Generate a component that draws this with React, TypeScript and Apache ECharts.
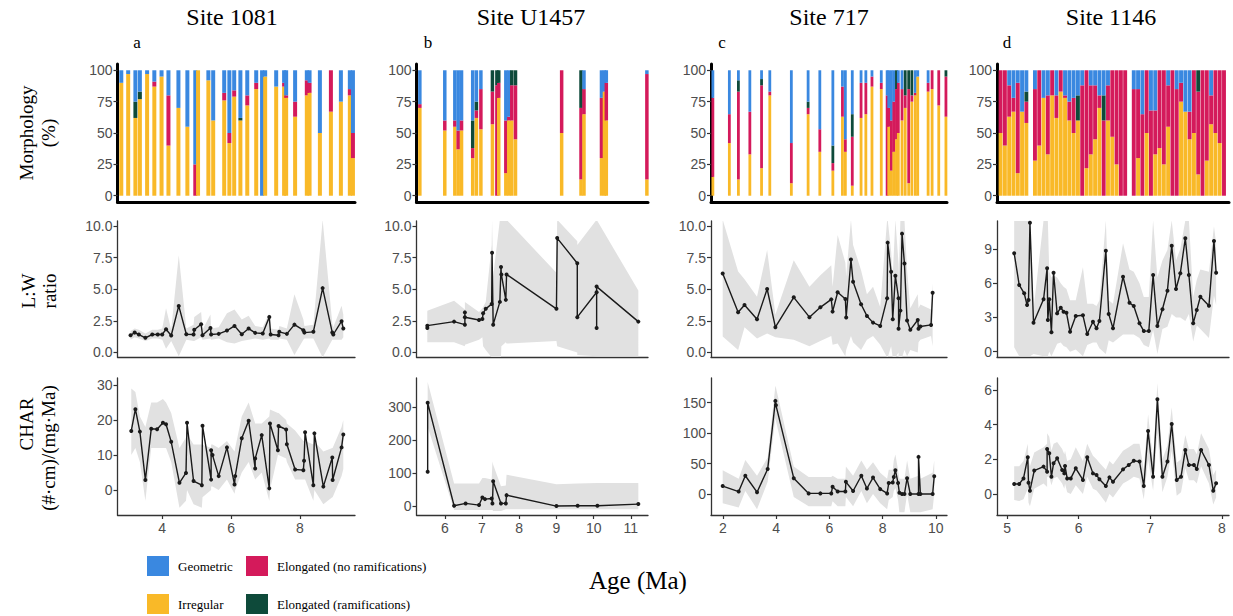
import React, { useEffect, useRef } from "react";
import * as echarts from "echarts";

const SERIF = "'Liberation Serif', 'Times New Roman', serif";
const SANS = "'Liberation Sans', Arial, sans-serif";

const C_GEO = "#3A88E0";
const C_IRR = "#F9B928";
const C_ELN = "#D41A5B";
const C_ELR = "#0E4A3A";
const C_RIB = "#E1E1E1";
const C_LINE = "#1A1A1A";

// ---------- Morphology (%) ----------
// Site 1081
const m1081Age = [2.81, 3.01, 3.22, 3.35, 3.56, 3.77, 3.98, 4.18, 4.47, 4.73, 4.96, 5.04, 5.34, 5.48, 5.80, 5.95, 6.09, 6.27, 6.47, 6.73, 6.90, 6.99, 7.31, 7.54, 7.60, 7.86, 8.20, 8.28, 8.58, 8.90, 9.19, 9.45, 9.54];
const m1081Irr = [90, 97, 62, 77, 97, 87, 95, 40, 70, 55, 0, 100, 92, 60, 76, 42, 79, 60, 72, 85, 0, 95, 87, 87, 78, 63, 80, 82, 50, 67, 75, 80, 30];
const m1081Eln = [0, 0, 0, 0, 0, 4, 0, 40, 0, 0, 25, 0, 0, 0, 6, 8, 5, 0, 8, 5, 0, 0, 0, 3, 2, 12, 12, 8, 0, 33, 0, 5, 20];
const m1081Elr = [0, 0, 13, 6, 0, 0, 0, 0, 0, 0, 0, 0, 0, 0, 0, 0, 0, 2, 0, 0, 0, 0, 0, 0, 0, 0, 0, 0, 0, 0, 0, 0, 0];
const m1081Geo = [10, 3, 25, 17, 3, 9, 5, 20, 30, 45, 75, 0, 8, 40, 18, 50, 16, 38, 20, 10, 100, 5, 13, 10, 20, 25, 8, 10, 50, 0, 25, 15, 50];
// Site U1457
const mU1457Age = [5.33, 6.00, 6.27, 6.36, 6.45, 6.75, 6.85, 6.97, 7.28, 7.40, 7.45, 7.64, 7.72, 7.80, 7.90, 9.14, 9.66, 9.74, 10.21, 10.29, 10.34, 11.43];
const mU1457Irr = [70, 52, 55, 37, 52, 30, 62, 53, 57, 0, 78, 18, 60, 60, 45, 50, 13, 65, 30, 83, 60, 13];
const mU1457Eln = [3, 8, 5, 15, 8, 8, 6, 32, 26, 88, 12, 42, 3, 28, 43, 50, 57, 20, 48, 0, 30, 84];
const mU1457Elr = [0, 0, 0, 0, 0, 22, 7, 0, 17, 12, 10, 0, 0, 12, 12, 0, 30, 0, 0, 0, 0, 0];
const mU1457Geo = [27, 40, 40, 48, 40, 40, 25, 15, 0, 0, 0, 40, 37, 0, 0, 0, 0, 15, 22, 17, 10, 3];
// Site 717
const m717Age = [1.62, 2.24, 2.58, 3.01, 3.45, 3.76, 4.57, 5.20, 5.64, 6.13, 6.49, 6.60, 6.86, 7.19, 7.37, 7.60, 7.95, 8.17, 8.23, 8.33, 8.42, 8.52, 8.59, 8.73, 8.85, 8.98, 9.10, 9.23, 9.32, 9.71, 9.86, 10.11, 10.38];
const m717Irr = [15, 42, 13, 33, 22, 80, 10, 65, 35, 20, 63, 35, 8, 62, 65, 87, 85, 0, 55, 20, 35, 45, 50, 60, 70, 10, 75, 80, 95, 83, 85, 72, 63];
const m717Eln = [63, 23, 70, 34, 66, 3, 32, 5, 18, 6, 24, 10, 39, 28, 25, 8, 5, 80, 15, 40, 40, 40, 40, 25, 10, 75, 5, 2, 0, 7, 15, 28, 32];
const m717Elr = [0, 0, 9, 0, 5, 0, 0, 5, 0, 14, 0, 0, 18, 0, 0, 0, 0, 0, 0, 0, 0, 15, 0, 0, 20, 15, 20, 0, 0, 0, 0, 0, 5];
const m717Geo = [22, 35, 8, 33, 7, 17, 58, 25, 47, 60, 13, 55, 35, 10, 10, 5, 10, 20, 30, 40, 25, 0, 10, 15, 0, 0, 0, 18, 5, 10, 0, 0, 0];
// Site 1146
const m1146Age = [4.91, 4.97, 5.03, 5.09, 5.15, 5.21, 5.27,
  5.39, 5.45, 5.51, 5.57, 5.63, 5.69, 5.75, 5.81, 5.87, 5.93, 5.99, 6.05, 6.11, 6.17, 6.23, 6.29, 6.35, 6.41, 6.47, 6.53, 6.59, 6.65,
  6.77, 6.83, 6.89, 6.95, 7.01, 7.07, 7.13, 7.19, 7.25, 7.31, 7.37, 7.43, 7.49, 7.55, 7.61, 7.67, 7.73, 7.79, 7.85, 7.91, 7.97, 8.03];
const m1146Irr = [50, 40, 63, 67, 18, 67, 58,
  28, 40, 78, 33, 80, 62, 83, 78, 60, 50, 60, 0, 22, 33, 45, 70, 0, 60, 47, 25, 0, 0,
  0, 30, 0, 50, 0, 33, 38, 25, 55, 0, 0, 75, 67, 45, 50, 17, 0, 28, 57, 50, 42, 0];
const m1146Eln = [50, 60, 25, 11, 72, 0, 17,
  57, 60, 0, 47, 20, 18, 17, 2, 15, 28, 0, 88, 78, 55, 43, 10, 60, 28, 53, 75, 100, 100,
  85, 55, 65, 50, 68, 35, 62, 75, 33, 100, 85, 15, 0, 22, 50, 66, 100, 72, 23, 50, 58, 100];
const m1146Elr = [0, 0, 0, 0, 0, 0, 8,
  0, 0, 0, 0, 0, 0, 0, 0, 0, 0, 20, 0, 0, 0, 0, 0, 20, 0, 0, 0, 0, 0,
  0, 0, 0, 0, 0, 0, 0, 0, 0, 0, 0, 0, 0, 0, 0, 17, 0, 0, 0, 0, 0, 0];
const m1146Geo = [0, 0, 12, 22, 10, 33, 17,
  15, 0, 22, 20, 0, 20, 0, 20, 25, 22, 20, 12, 0, 12, 12, 20, 20, 12, 0, 0, 0, 0,
  15, 15, 35, 0, 32, 32, 0, 0, 12, 0, 15, 10, 33, 33, 0, 0, 0, 0, 20, 0, 0, 0];

// ---------- L:W ratio ----------
const lw1081Age = [3.08, 3.20, 3.32, 3.51, 3.71, 3.87, 4.00, 4.11, 4.26, 4.48, 4.70, 4.91, 4.93, 5.13, 5.17, 5.40, 5.42, 5.64, 5.88, 6.10, 6.31, 6.51, 6.70, 6.92, 7.11, 7.15, 7.38, 7.40, 7.62, 7.84, 8.10, 8.13, 8.39, 8.66, 8.94, 8.97, 9.21, 9.26];
const lw1081Val = [1.36, 1.57, 1.42, 1.16, 1.42, 1.42, 1.42, 1.84, 1.34, 3.68, 1.44, 1.42, 1.79, 2.23, 1.36, 1.94, 1.42, 1.47, 1.73, 2.10, 1.44, 1.89, 1.55, 1.50, 2.81, 1.42, 1.36, 1.63, 1.47, 2.20, 1.76, 1.57, 1.63, 5.09, 1.57, 1.42, 2.47, 1.89];
const lw1081Lo = [1.0, 1.2, 1.1, 0.9, 1.1, 1.1, 1.0, 0.3, 0.9, -0.3, 1.0, 0.9, 0.9, 1.2, 1.0, 1.1, 1.0, 1.1, 0.8, 0.7, 0.9, 1.0, 1.1, 1.0, 1.1, 1.0, 1.0, 1.1, 1.0, -0.2, 1.0, 1.1, 1.1, -0.4, 1.0, 1.0, 1.0, 1.2];
const lw1081Hi = [1.7, 1.9, 1.8, 1.5, 1.8, 1.8, 1.9, 3.5, 1.8, 7.7, 1.9, 2.2, 2.8, 3.2, 1.8, 3.0, 1.9, 2.0, 3.1, 3.4, 2.6, 2.9, 2.1, 2.0, 3.1, 1.9, 1.8, 2.1, 1.9, 4.6, 2.6, 2.1, 2.2, 10.5, 2.3, 2.0, 3.7, 3.0];

const lwU1457Age = [5.53, 5.53, 6.25, 6.54, 6.54, 6.54, 6.92, 7.01, 7.03, 7.10, 7.26, 7.27, 7.30, 7.48, 7.51, 7.52, 7.64, 7.66, 9.00, 9.02, 9.56, 9.56, 10.08, 10.08, 10.08, 11.20];
const lwU1457Val = [1.94, 2.12, 2.44, 2.20, 3.17, 2.78, 2.57, 2.65, 3.10, 3.45, 3.84, 7.89, 2.20, 4.00, 6.76, 6.17, 4.16, 6.17, 3.45, 9.05, 7.06, 2.79, 4.76, 1.94, 5.21, 2.44];
const lwU1457Lo = [0.8, 0.8, 0.8, 0.5, 0.5, 0.6, 1.0, 1.2, 0.5, 0.2, -0.4, -0.4, -0.4, -0.4, -0.4, 0.5, 0.8, 0.7, 0.9, 0.5, 0.0, -0.2, -0.3, -0.3, -0.3, -0.3];
const lwU1457Hi = [3.3, 3.3, 4.1, 3.4, 5.2, 4.0, 3.2, 3.5, 3.6, 4.0, 8.5, 10.5, 6.0, 10.5, 10.5, 10.5, 10.5, 10.5, 6.3, 10.5, 8.8, 8.5, 10.5, 10.5, 10.5, 4.9];

const lw717Age = [1.99, 2.57, 2.81, 3.28, 3.66, 3.97, 4.66, 5.25, 5.66, 6.07, 6.12, 6.31, 6.60, 6.63, 6.81, 6.89, 7.19, 7.41, 7.64, 7.91, 8.17, 8.19, 8.32, 8.38, 8.48, 8.60, 8.60, 8.67, 8.73, 8.82, 8.92, 9.04, 9.32, 9.35, 9.42, 9.82, 9.88];
const lw717Val = [6.25, 3.18, 3.76, 2.63, 5.02, 2.00, 4.36, 2.79, 3.57, 4.20, 3.23, 4.76, 4.23, 2.76, 7.35, 5.59, 3.81, 2.89, 2.36, 2.10, 4.28, 8.69, 6.38, 2.63, 6.06, 4.28, 1.87, 3.31, 9.40, 7.04, 2.52, 1.79, 2.57, 1.87, 2.05, 2.18, 4.72];
const lw717Lo = [1.26, 0.2, 2.0, 1.1, 1.5, 1.2, 1.0, 0.5, 0.9, 1.3, 0.6, 0.7, -0.3, 0.2, 1.3, 0.8, 0.2, 1.0, 1.3, 0.6, -0.4, -0.4, 0.5, -0.4, -0.4, 0.0, -0.4, -0.4, -0.4, 0.2, -0.3, 0.2, 0.0, 0.8, 1.0, 1.3, 0.5];
const lw717Hi = [10.5, 6.4, 5.8, 4.4, 8.1, 3.0, 7.3, 5.2, 6.1, 6.9, 5.2, 9.3, 7.1, 6.0, 10.5, 8.5, 6.5, 4.6, 5.2, 3.6, 10.5, 10.5, 8.0, 6.0, 10.5, 7.0, 6.0, 10.5, 10.5, 10.5, 6.5, 3.5, 4.6, 3.5, 3.8, 3.4, 5.5];

const lw1146Age = [5.10, 5.17, 5.24, 5.28, 5.30, 5.32, 5.37, 5.51, 5.56, 5.57, 5.59, 5.62, 5.65, 5.70, 5.75, 5.79, 5.83, 5.88, 5.96, 6.06, 6.12, 6.20, 6.25, 6.29, 6.38, 6.42, 6.48, 6.62, 6.71, 6.77, 6.85, 6.91, 6.98, 7.04, 7.10, 7.17, 7.24, 7.30, 7.36, 7.42, 7.49, 7.54, 7.60, 7.65, 7.70, 7.82, 7.89, 7.92];
const lw1146Val = [8.62, 5.85, 5.12, 4.09, 4.53, 11.3, 2.54, 4.59, 7.31, 2.78, 4.59, 1.70, 6.92, 3.36, 3.86, 3.51, 3.42, 1.75, 3.13, 3.19, 1.55, 2.63, 2.05, 2.69, 8.85, 3.30, 2.05, 6.57, 4.29, 4.00, 2.49, 1.81, 1.81, 6.72, 2.25, 3.72, 5.35, 9.29, 5.50, 6.87, 9.94, 6.72, 2.49, 3.65, 4.82, 4.03, 9.70, 6.92];
const lw1146Lo = [0.4, -0.4, -0.4, -0.4, -0.4, -0.4, -0.2, -0.4, -0.4, -0.4, 0.0, -0.4, 0.0, 0.7, 0.8, 0.5, 0.4, 0.0, 0.2, -0.4, 0.6, 0.8, 0.8, 0.3, -0.2, 1.0, 0.8, 1.5, 1.5, 1.5, 1.2, 0.6, 0.4, 1.9, -0.2, 2.0, 2.2, 3.3, 3.0, 3.0, 2.7, 3.3, 0.9, 2.3, 2.0, 1.2, 4.9, 4.1];
const lw1146Hi = [11.5, 11.5, 11.5, 11.5, 11.5, 11.5, 3.7, 11.5, 11.5, 11.5, 7.0, 6.5, 6.7, 6.5, 6.0, 5.7, 5.5, 4.5, 4.5, 7.4, 4.2, 4.2, 4.0, 4.5, 11.5, 4.5, 4.2, 9.5, 7.2, 7.0, 6.0, 4.8, 4.8, 11.5, 6.5, 8.0, 8.9, 11.5, 8.0, 9.0, 11.5, 11.5, 4.8, 6.3, 7.2, 7.0, 11.0, 9.5];

// ---------- CHAR ----------
const ch1081Age = [3.10, 3.22, 3.35, 3.51, 3.68, 3.85, 4.02, 4.11, 4.26, 4.50, 4.69, 4.72, 4.91, 5.15, 5.17, 5.42, 5.42, 5.46, 5.64, 5.88, 6.10, 6.12, 6.31, 6.51, 6.70, 6.70, 6.89, 7.11, 7.13, 7.36, 7.38, 7.60, 7.62, 7.86, 8.10, 8.12, 8.15, 8.39, 8.42, 8.68, 8.94, 8.95, 9.21, 9.26];
const ch1081Val = [16.9, 23.1, 16.7, 2.9, 17.5, 17.4, 19.2, 18.8, 13.8, 2.1, 4.9, 19.2, 2.6, 1.4, 18.4, 3.0, 11.4, 10.0, 4.0, 12.2, 1.6, 4.0, 14.8, 19.8, 6.2, 9.0, 15.7, 0.5, 19.0, 11.4, 18.3, 17.3, 13.1, 5.9, 5.7, 8.4, 16.5, 1.4, 16.2, 1.0, 9.3, 2.9, 12.2, 15.9];
const ch1081Lo = [10, 12, 8, -3, 12, 12, 12, 12, 8, -5, -3, 0, -4, -5, -2, 0, 1, 1, 0, 3, -1, 0, 5, 8, 3, 3, 5, -3, 0, 10, 10, 9, 8, 3, 3, 3, 3, -3, 0, -4, -2, -2, 4, 6];
const ch1081Hi = [29, 28, 21, 18, 25, 25, 26, 25, 22, 12, 15, 16, 13, 13, 13, 12, 13, 13, 12, 14, 11, 12, 21, 25, 19, 19, 19, 21, 23, 22, 22, 20, 19, 17, 14, 14, 14, 13, 14, 11, 12, 12, 18, 20];

const chU1457Age = [5.54, 5.54, 6.25, 6.56, 6.92, 7.01, 7.08, 7.26, 7.28, 7.30, 7.51, 7.64, 7.66, 9.00, 9.57, 10.10, 11.20];
const chU1457Val = [104, 312, 1, 8, 3, 26, 21, 23, 8, 75, 8, 8, 33, 0, 1, 1, 6];
const chU1457Lo = [240, 240, -12, -12, -12, -12, -12, -12, -12, -15, -15, -10, -10, -10, -10, -10, -10];
const chU1457Hi = [375, 375, 68, 68, 68, 85, 85, 80, 135, 125, 60, 62, 95, 66, 68, 70, 70];

const ch717Age = [1.99, 2.59, 2.84, 3.28, 3.68, 3.97, 3.99, 4.66, 5.22, 5.66, 6.07, 6.12, 6.31, 6.60, 6.62, 6.89, 7.20, 7.41, 7.64, 7.91, 8.17, 8.23, 8.38, 8.42, 8.48, 8.58, 8.63, 8.73, 8.82, 8.92, 9.04, 9.35, 9.35, 9.42, 9.88, 9.94];
const ch717Val = [13, 4, 30, 3, 41, 153, 146, 26, 1, 1, 1, 12, 4, 4, 20, 5, 30, 9, 27, 8, 1, 18, 19, 28, 39, 18, 2, 0, 0, 26, 0, 0, 61, 0, 0, 29];
const ch717Lo = [-15, -22, 5, -25, 20, 125, 120, -5, -20, -20, -20, -12, -20, -20, -5, -20, 5, -15, 0, -15, -25, -10, -5, 5, 10, -10, -30, -30, -30, 0, -30, -30, -30, -30, -25, 0];
const ch717Hi = [39, 25, 56, 30, 60, 178, 175, 45, 28, 28, 28, 30, 25, 25, 45, 30, 55, 40, 52, 35, 25, 40, 40, 55, 65, 40, 25, 25, 25, 55, 25, 30, 30, 25, 35, 55];

const ch1146Age = [5.10, 5.17, 5.23, 5.29, 5.30, 5.32, 5.38, 5.51, 5.56, 5.56, 5.59, 5.62, 5.65, 5.70, 5.77, 5.80, 5.81, 5.84, 5.89, 5.96, 6.06, 6.12, 6.20, 6.25, 6.29, 6.38, 6.43, 6.48, 6.62, 6.70, 6.77, 6.85, 6.91, 6.97, 7.04, 7.10, 7.17, 7.24, 7.30, 7.37, 7.43, 7.49, 7.54, 7.61, 7.65, 7.71, 7.82, 7.88, 7.92];
const ch1146Val = [0.58, 0.58, 0.90, 2.12, 0.65, 0.19, 1.35, 1.58, 1.29, 2.60, 2.35, 1.00, 1.77, 2.06, 1.38, 1.19, 1.62, 0.90, 0.90, 1.48, 0.81, 2.12, 1.19, 1.10, 0.85, 0.46, 0.96, 0.71, 1.42, 1.67, 1.92, 1.87, 0.46, 3.63, 1.00, 5.46, 1.00, 1.87, 4.04, 0.81, 1.00, 2.54, 1.67, 1.67, 1.44, 2.54, 1.67, 0.19, 0.62];
const ch1146Lo = [-0.35, -0.4, -0.3, 0.3, -0.5, -0.7, 0.3, 0.6, 0.4, 1.0, 1.0, 0.5, 0.9, 1.0, 0.6, 0.3, 0.6, 0.1, 0.0, 0.5, 0.0, 1.0, 0.3, 0.2, 0.0, -0.5, 0.0, -0.2, 0.6, 0.8, 1.0, 0.9, -0.3, 2.0, 0.2, 3.5, 0.1, 1.0, 2.5, -0.1, 0.1, 1.5, 0.8, 0.8, 0.6, 1.6, 0.6, -0.6, -0.2];
const ch1146Hi = [1.6, 1.6, 1.9, 2.9, 2.0, 1.6, 2.4, 2.7, 2.9, 3.5, 3.3, 2.5, 2.9, 3.0, 2.6, 2.3, 2.5, 1.9, 2.0, 2.7, 1.9, 2.9, 2.2, 2.0, 1.8, 1.4, 1.9, 1.7, 2.5, 2.7, 2.9, 2.9, 1.4, 4.6, 1.9, 6.4, 2.0, 2.8, 5.0, 1.8, 2.0, 3.4, 2.6, 2.6, 2.3, 3.5, 2.6, 1.1, 1.4];

// ---------- Layout / axes ----------
const siteTitles = ["Site 1081", "Site U1457", "Site 717", "Site 1146"];
const panelLetters = ["a", "b", "c", "d"];

const COLS = [
  { left: 117.5, right: 355, xMin: 2.7, xMax: 9.6, xTicks: [4, 6, 8], barW: 4, titleX: 232, letterX: 137 },
  { left: 416.5, right: 648, xMin: 5.24, xMax: 11.46, xTicks: [6, 7, 8, 9, 10, 11], barW: 3.5, titleX: 531, letterX: 428 },
  { left: 711, right: 947, xMin: 1.55, xMax: 10.42, xTicks: [2, 4, 6, 8, 10], barW: 2.8, titleX: 829, letterX: 722 },
  { left: 997, right: 1229, xMin: 4.86, xMax: 8.1, xTicks: [5, 6, 7, 8], barW: 3.9, titleX: 1111, letterX: 1007 },
];
const ROWS = [
  { top: 64, height: 138 },
  { top: 221, height: 136 },
  { top: 378, height: 137 },
];
const Y_MORPH = { min: -5, max: 105, ticks: [0, 25, 50, 75, 100], dec: 0 };
const Y_LW = [
  { min: -0.36, max: 10.4, ticks: [0, 2.5, 5, 7.5, 10], dec: 1 },
  { min: -0.36, max: 10.4, ticks: [0, 2.5, 5, 7.5, 10], dec: 1 },
  { min: -0.36, max: 10.4, ticks: [0, 2.5, 5, 7.5, 10], dec: 1 },
  { min: -0.46, max: 11.45, ticks: [0, 3, 6, 9], dec: 0 },
];
const Y_CHAR = [
  { min: -7.1, max: 32, ticks: [0, 10, 20, 30], dec: 0 },
  { min: -27, max: 387, ticks: [0, 100, 200, 300], dec: 0 },
  { min: -34.5, max: 190.6, ticks: [0, 50, 100, 150], dec: 0 },
  { min: -1.21, max: 6.69, ticks: [0, 2, 4, 6], dec: 0 },
];

const MORPH = [
  { age: m1081Age, irr: m1081Irr, eln: m1081Eln, elr: m1081Elr, geo: m1081Geo },
  { age: mU1457Age, irr: mU1457Irr, eln: mU1457Eln, elr: mU1457Elr, geo: mU1457Geo },
  { age: m717Age, irr: m717Irr, eln: m717Eln, elr: m717Elr, geo: m717Geo },
  { age: m1146Age, irr: m1146Irr, eln: m1146Eln, elr: m1146Elr, geo: m1146Geo },
];
const LW = [
  { age: lw1081Age, val: lw1081Val, lo: lw1081Lo, hi: lw1081Hi },
  { age: lwU1457Age, val: lwU1457Val, lo: lwU1457Lo, hi: lwU1457Hi },
  { age: lw717Age, val: lw717Val, lo: lw717Lo, hi: lw717Hi },
  { age: lw1146Age, val: lw1146Val, lo: lw1146Lo, hi: lw1146Hi },
];
const CHAR = [
  { age: ch1081Age, val: ch1081Val, lo: ch1081Lo, hi: ch1081Hi },
  { age: chU1457Age, val: chU1457Val, lo: chU1457Lo, hi: chU1457Hi },
  { age: ch717Age, val: ch717Val, lo: ch717Lo, hi: ch717Hi },
  { age: ch1146Age, val: ch1146Val, lo: ch1146Lo, hi: ch1146Hi },
];

// stacking order, bottom to top
const MORPH_CATS = [
  { key: "irr", name: "Irregular", color: C_IRR },
  { key: "eln", name: "Elongated (no ramifications)", color: C_ELN },
  { key: "elr", name: "Elongated (ramifications)", color: C_ELR },
  { key: "geo", name: "Geometric", color: C_GEO },
];

function morphSeries(m: any, gi: number, barW: number) {
  return {
    type: "custom",
    xAxisIndex: gi,
    yAxisIndex: gi,
    silent: true,
    z: 2,
    data: m.age.map((a: number, i: number) => [a, m.irr[i], m.eln[i], m.elr[i], m.geo[i]]),
    encode: { x: 0, y: [1, 2, 3, 4] },
    renderItem: (params: any, api: any) => {
      const x = api.value(0);
      let acc = 0;
      const children: any[] = [];
      MORPH_CATS.forEach((cat, j) => {
        const v = api.value(j + 1);
        if (!(v > 0)) return;
        const p0 = api.coord([x, acc]);
        const p1 = api.coord([x, acc + v]);
        children.push({
          type: "rect",
          shape: { x: p0[0] - barW / 2, y: p1[1], width: barW, height: p0[1] - p1[1] },
          style: { fill: cat.color },
        });
        acc += v;
      });
      return { type: "group", children };
    },
  };
}

function ribbon(d: any, gi: number) {
  return {
    type: "custom",
    xAxisIndex: gi,
    yAxisIndex: gi,
    clip: true,
    silent: true,
    z: 1,
    data: d.age.map((a: number, i: number) => [a, d.lo[i], d.hi[i]]),
    encode: { x: 0, y: [1, 2] },
    renderItem: (params: any, api: any) => {
      if (params.dataIndex !== 0) return null;
      const top = d.age.map((a: number, i: number) => api.coord([a, d.hi[i]]));
      const bot = d.age.map((a: number, i: number) => api.coord([a, d.lo[i]])).reverse();
      return { type: "polygon", shape: { points: top.concat(bot) }, style: { fill: C_RIB } };
    },
  };
}

function lineSeries(d: any, gi: number) {
  return {
    type: "line",
    xAxisIndex: gi,
    yAxisIndex: gi,
    z: 3,
    silent: true,
    data: d.age.map((a: number, i: number) => [a, d.val[i]]),
    symbol: "circle",
    symbolSize: 4,
    showSymbol: true,
    lineStyle: { color: C_LINE, width: 1.4 },
    itemStyle: { color: C_LINE },
  };
}

function buildOption() {
  const grid: any[] = [];
  const xAxis: any[] = [];
  const yAxis: any[] = [];
  const series: any[] = [];

  COLS.forEach((col, c) => {
    ROWS.forEach((row, r) => {
      const gi = grid.length;
      grid.push({
        left: col.left,
        top: row.top,
        width: col.right - col.left,
        height: row.height,
        containLabel: false,
        outerBoundsMode: "none",
      });
      const thick = r === 0;
      const lineStyle = thick ? { color: "#000", width: 3 } : { color: "#333", width: 1.3 };
      xAxis.push({
        type: "value",
        gridIndex: gi,
        min: col.xMin,
        max: col.xMax,
        axisLine: { show: true, onZero: false, lineStyle },
        axisTick: r === 2
          ? { show: true, customValues: col.xTicks, length: 4, lineStyle: { color: "#333", width: 1.2 } }
          : { show: false },
        axisLabel: r === 2
          ? { show: true, customValues: col.xTicks, color: "#4D4D4D", fontSize: 14, fontFamily: SANS, margin: 6 }
          : { show: false },
        splitLine: { show: false },
      });
      const yc = r === 0 ? Y_MORPH : r === 1 ? Y_LW[c] : Y_CHAR[c];
      yAxis.push({
        type: "value",
        gridIndex: gi,
        min: yc.min,
        max: yc.max,
        axisLine: { show: true, onZero: false, lineStyle },
        axisTick: { show: true, customValues: yc.ticks, length: 4, lineStyle: { color: "#333", width: 1.2 } },
        axisLabel: {
          show: true,
          customValues: yc.ticks,
          color: "#4D4D4D",
          fontSize: 14,
          fontFamily: SANS,
          margin: 5,
          formatter: (v: number) => v.toFixed(yc.dec),
        },
        splitLine: { show: false },
      });

      if (r === 0) {
        series.push(morphSeries(MORPH[c], gi, col.barW));
      } else {
        const d = r === 1 ? LW[c] : CHAR[c];
        series.push(ribbon(d, gi));
        series.push(lineSeries(d, gi));
      }
    });
  });

  const graphic: any[] = [];
  COLS.forEach((col, c) => {
    graphic.push({
      type: "text",
      x: col.titleX,
      y: 17,
      style: { text: siteTitles[c], font: `24px ${SERIF}`, fill: "#000", align: "center", verticalAlign: "middle" },
    });
    graphic.push({
      type: "text",
      x: col.letterX,
      y: 42,
      style: { text: panelLetters[c], font: `17px ${SERIF}`, fill: "#000", align: "center", verticalAlign: "middle" },
    });
  });
  const yTitles = [
    { text: "Morphology", x: 26, y: 133 },
    { text: "(%)", x: 48, y: 133 },
    { text: "L:W", x: 28, y: 291 },
    { text: "ratio", x: 49, y: 291 },
    { text: "CHAR", x: 26, y: 424 },
    { text: "(#·cm)/(mg·Ma)", x: 48, y: 448 },
  ];
  yTitles.forEach((t) => {
    graphic.push({
      type: "text",
      x: t.x,
      y: t.y,
      rotation: Math.PI / 2,
      style: { text: t.text, font: `19px ${SERIF}`, fill: "#000", align: "center", verticalAlign: "middle" },
    });
  });
  graphic.push({
    type: "text",
    x: 638,
    y: 580,
    style: { text: "Age (Ma)", font: `25px ${SERIF}`, fill: "#000", align: "center", verticalAlign: "middle" },
  });
  const legendItems = [
    { name: "Geometric", color: C_GEO, x: 147, y: 556 },
    { name: "Elongated (no ramifications)", color: C_ELN, x: 246, y: 556 },
    { name: "Irregular", color: C_IRR, x: 147, y: 594 },
    { name: "Elongated (ramifications)", color: C_ELR, x: 246, y: 594 },
  ];
  legendItems.forEach((it) => {
    graphic.push({ type: "rect", shape: { x: it.x, y: it.y, width: 22, height: 20 }, style: { fill: it.color } });
    graphic.push({
      type: "text",
      x: it.x + 31,
      y: it.y + 10,
      style: { text: it.name, font: `13px ${SERIF}`, fill: "#000", align: "left", verticalAlign: "middle" },
    });
  });

  return {
    animation: false,
    backgroundColor: "#fff",
    grid,
    xAxis,
    yAxis,
    series,
    graphic,
  };
}

export default function App() {
  const ref = useRef<HTMLDivElement>(null);
  useEffect(() => {
    const chart = echarts.init(ref.current!, null, { renderer: "svg" });
    chart.setOption(buildOption() as any);
    return () => chart.dispose();
  }, []);
  return (
    <div
      ref={ref}
      style={{ position: "absolute", left: 0, top: 0, width: 1233, height: 616, background: "#fff" }}
    />
  );
}
